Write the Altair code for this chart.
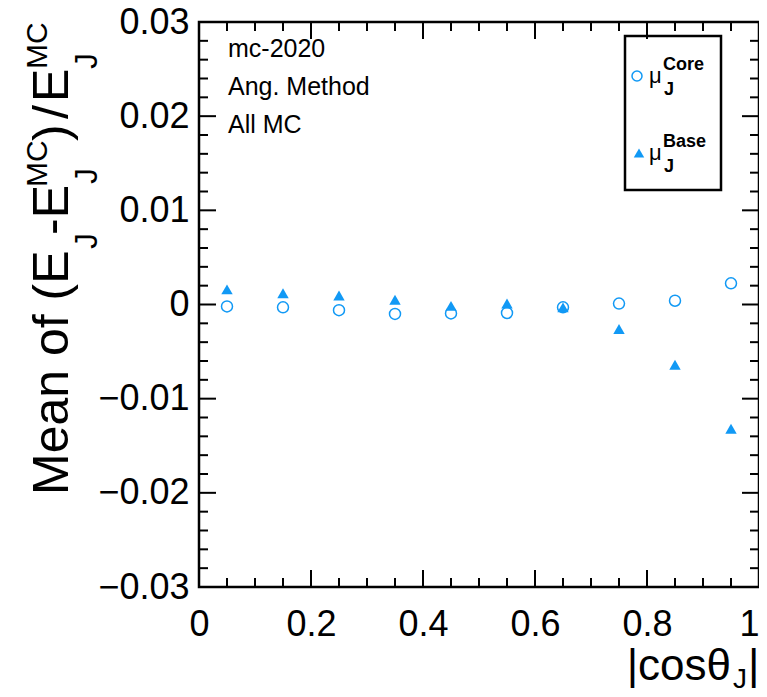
import altair as alt
import pandas as pd

# ---- data ----
x_centers = [0.05, 0.15, 0.25, 0.35, 0.45, 0.55, 0.65, 0.75, 0.85, 0.95]
mu_core = [-0.0002, -0.0003, -0.0006, -0.0010, -0.00095, -0.0009, -0.0003, 0.0001, 0.0004, 0.00225]
mu_base = [0.0016, 0.0012, 0.00095, 0.0005, -0.00015, 0.0001, -0.0003, -0.0026, -0.0064, -0.0132]

y_major = [-0.03, -0.02, -0.01, 0.0, 0.01, 0.02, 0.03]
y_minor = [-0.028, -0.026, -0.024, -0.022, -0.018, -0.016, -0.014, -0.012,
           -0.008, -0.006, -0.004, -0.002, 0.002, 0.004, 0.006, 0.008,
           0.012, 0.014, 0.016, 0.018, 0.022, 0.024, 0.026, 0.028]
x_major = [0.0, 0.2, 0.4, 0.6, 0.8, 1.0]
x_minor = [0.05, 0.1, 0.15, 0.25, 0.3, 0.35, 0.45, 0.5, 0.55,
           0.65, 0.7, 0.75, 0.85, 0.9, 0.95]
annotations = ["mc-2020", "Ang. Method", "All MC"]

W = 560
H = 565
FONT = "Liberation Sans"
BLUE = "#1199F5"

xs = alt.Scale(domain=[0, 1], nice=False, zero=False)
ys = alt.Scale(domain=[-0.03, 0.03], nice=False, zero=False)

x_axis = alt.Axis(values=x_major, format="~g", ticks=False, domain=False, grid=False,
                  labelFont=FONT, labelFontSize=36, labelPadding=20, labelColor="black",
                  labelFlush=False, labelOverlap=False,
                  labelAlign=alt.expr("datum.value == 1 ? 'right' : 'center'"))
y_axis = alt.Axis(values=y_major, format=".2~f", ticks=False, domain=False, grid=False,
                  labelFont=FONT, labelFontSize=36, labelPadding=10, labelColor="black",
                  labelFlush=False, labelOverlap=False)

df = pd.DataFrame({"x": x_centers, "core": mu_core, "base": mu_base})
one = pd.DataFrame({"k": [0]})


def X(field):
    return alt.X(field, type="quantitative", scale=xs, axis=x_axis, title=None)


def Y(field):
    return alt.Y(field, type="quantitative", scale=ys, axis=y_axis, title=None)


layers = []

# inward ticks on all four sides
for vals, length in ((y_major, 17), (y_minor, 9)):
    d = pd.DataFrame({"v": vals})
    layers.append(alt.Chart(d).mark_rule(color="black", strokeWidth=2).encode(
        y=Y("v"), x=alt.value(0), x2=alt.value(length)))
    layers.append(alt.Chart(d).mark_rule(color="black", strokeWidth=2).encode(
        y=Y("v"), x=alt.value(W - length), x2=alt.value(W)))
for vals, length in ((x_major, 17), (x_minor, 9)):
    d = pd.DataFrame({"v": vals})
    layers.append(alt.Chart(d).mark_rule(color="black", strokeWidth=2).encode(
        x=X("v"), y=alt.value(H), y2=alt.value(H - length)))
    layers.append(alt.Chart(d).mark_rule(color="black", strokeWidth=2).encode(
        x=X("v"), y=alt.value(0), y2=alt.value(length)))

# data
layers.append(alt.Chart(df).mark_point(shape="circle", filled=False, size=121,
                                       strokeWidth=1.5, color=BLUE, opacity=1).encode(
    x=X("x"), y=Y("core")))
layers.append(alt.Chart(df).mark_point(shape="triangle-up", filled=True, size=130,
                                       color=BLUE, opacity=1).encode(
    x=X("x"), y=Y("base")))


def txt(text, x, y, size, angle=0, align="left", weight="normal"):
    return alt.Chart(one).mark_text(fontSize=size, angle=angle, align=align,
                                    baseline="alphabetic", font=FONT,
                                    fontWeight=weight, color="black").encode(
        x=alt.value(x), y=alt.value(y), text=alt.value(text))


# annotations
for t, yy in zip(annotations, [35, 73, 111]):
    layers.append(txt(t, 29, yy, 25))

# legend box
layers.append(alt.Chart(one).mark_rect(filled=False, stroke="black", strokeWidth=2.5).encode(
    x=alt.value(426), x2=alt.value(522), y=alt.value(14), y2=alt.value(168)))
layers.append(alt.Chart(one).mark_point(shape="circle", filled=False, size=100,
                                        strokeWidth=1.5, color=BLUE, opacity=1).encode(
    x=alt.value(438), y=alt.value(54)))
layers.append(alt.Chart(one).mark_point(shape="triangle-up", filled=True, size=110,
                                        color=BLUE, opacity=1).encode(
    x=alt.value(440), y=alt.value(131)))
layers += [
    txt("μ", 450, 61, 22), txt("Core", 464, 48, 18, weight="bold"), txt("J", 465, 73, 18, weight="bold"),
    txt("μ", 450, 138, 22), txt("Base", 464, 125, 18, weight="bold"), txt("J", 465, 150, 18, weight="bold"),
]

# y-axis title pieces (rotated)
layers += [
    txt("Mean of (E", -131, 473, 50, angle=270),
    txt("J", -102, 227, 32, angle=270),
    txt("-E", -131, 213, 50, angle=270),
    txt("J", -102, 162, 32, angle=270),
    txt("MC", -152, 165, 30, angle=270),
    txt(")", -131, 119, 50, angle=270),
    txt("/", -131, 97, 50, angle=270),
    txt("E", -131, 80, 50, angle=270),
    txt("J", -102, 47, 32, angle=270),
    txt("MC", -152, 47, 30, angle=270),
]

# x-axis title pieces
layers += [
    txt("|cosθ", 532, 658, 44, align="right"),
    txt("J", 534, 666, 28),
    txt("|", 549, 658, 44),
]

chart = alt.layer(*layers).properties(
    width=W, height=H,
    autosize=alt.AutoSizeParams(type="none"),
    padding={"left": 191, "top": 14, "right": 0, "bottom": 101},
    background="white",
).configure_view(stroke="black", strokeWidth=2.5)

chart.save("out.html", embed_options={"renderer": "svg", "actions": False})
